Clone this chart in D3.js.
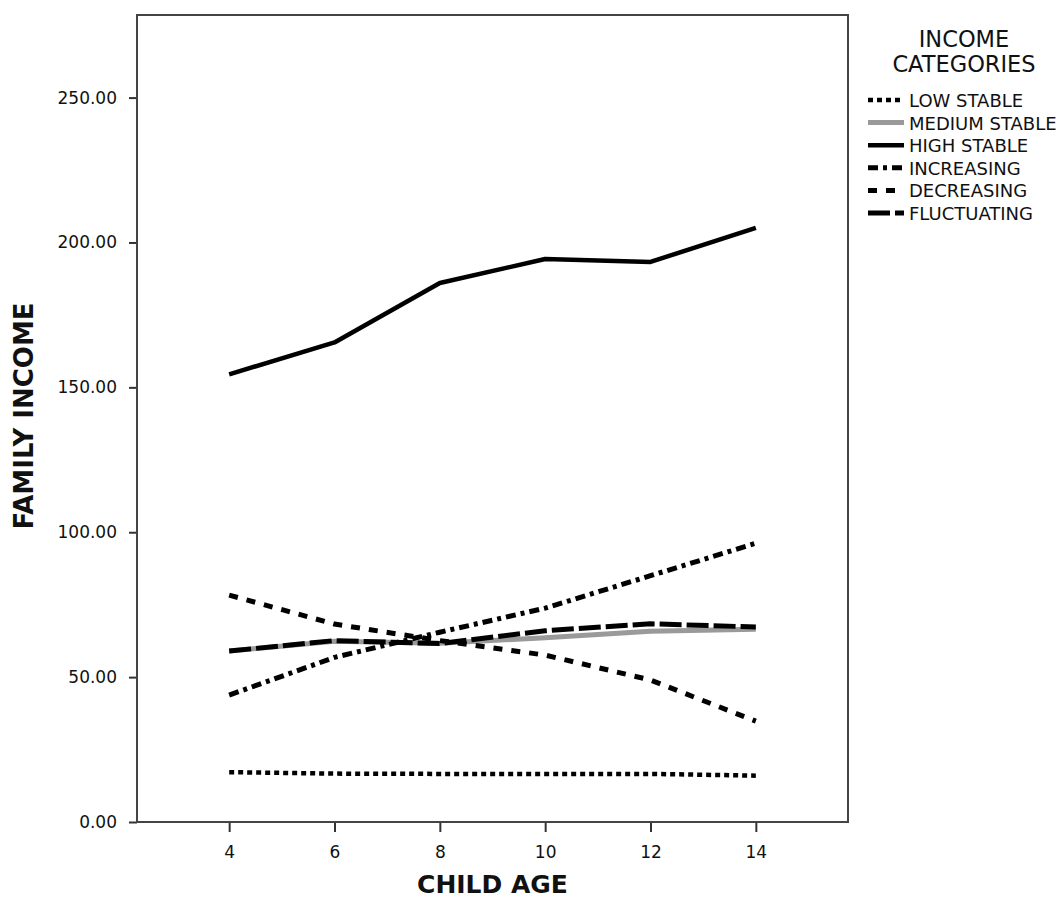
<!DOCTYPE html>
<html lang="en">

<head>
  <meta charset="utf-8">
  <title>Family income by child age</title>
  <script src="https://d3js.org/d3.v7.min.js"></script>
  <style>
    body {
      margin: 0;
      background: #fff;
    }

    text {
      font-family: "DejaVu Sans", sans-serif;
      fill: #111;
    }
  </style>
</head>

<body>

  <div id="chart"></div>

  <script>
    // width and height
    var w = 1063;
    var h = 901;

    // data
    var ages = [4, 6, 8, 10, 12, 14];
    var categories = ["LOW STABLE", "MEDIUM STABLE", "HIGH STABLE", "INCREASING", "DECREASING", "FLUCTUATING"];
    var lowStable = [17.2, 16.7, 16.6, 16.6, 16.6, 16.0];
    var mediumStable = [59.0, 62.4, 61.7, 63.6, 65.8, 66.5];
    var highStable = [154.5, 165.5, 186.0, 194.3, 193.3, 205.0];
    var increasing = [43.8, 56.8, 65.5, 73.8, 85.0, 96.2];
    var decreasing = [78.3, 68.3, 62.6, 57.6, 49.0, 34.8];
    var fluctuating = [59.0, 62.6, 61.6, 66.0, 68.4, 67.3];
    var yTicks = [0, 50, 100, 150, 200, 250];

    var seriesValues = [lowStable, mediumStable, highStable, increasing, decreasing, fluctuating];

    // line looks per category
    var looks = [
      { color: "#000", width: 4.5, dash: "5,4" },
      { color: "#9a9a9a", width: 5, dash: null },
      { color: "#000", width: 4.5, dash: null },
      { color: "#000", width: 5, dash: "10,5,4,5" },
      { color: "#000", width: 5, dash: "9,9" },
      { color: "#000", width: 5, dash: "22,5" }
    ];

    var frame = { left: 137, top: 15, right: 848, bottom: 822 };

    var x = d3.scaleLinear().domain([2.25, 15.75]).range([frame.left, frame.right]);
    var y = d3.scaleLinear().domain([0, 278.5]).range([frame.bottom, frame.top]);

    var svg = d3
      .select("#chart")
      .append("svg")
      .attr("width", w)
      .attr("height", h);

    // axes
    var yAxis = d3.axisLeft(y)
      .tickValues(yTicks)
      .tickSize(8)
      .tickPadding(12)
      .tickFormat(d3.format(".2f"));

    var xAxis = d3.axisBottom(x)
      .tickValues(ages)
      .tickSize(10)
      .tickPadding(14);

    var gy = svg.append("g")
      .attr("transform", "translate(" + frame.left + ",0)")
      .call(yAxis);

    var gx = svg.append("g")
      .attr("transform", "translate(0," + frame.bottom + ")")
      .call(xAxis);

    [gx, gy].forEach(function (g) {
      g.select(".domain").remove();
      g.selectAll(".tick line").attr("stroke", "#333").attr("stroke-width", 2);
      g.selectAll(".tick text")
        .style("font-family", "'DejaVu Sans', sans-serif")
        .style("font-size", "17px")
        .attr("fill", "#1a1a3a");
    });

    // the box round the plot
    svg.append("rect")
      .attr("x", frame.left)
      .attr("y", frame.top)
      .attr("width", frame.right - frame.left)
      .attr("height", frame.bottom - frame.top)
      .attr("fill", "none")
      .attr("stroke", "#444")
      .attr("stroke-width", 2);

    // lines
    var line = d3.line()
      .x(function (d, i) { return x(ages[i]); })
      .y(function (d) { return y(d); });

    svg.append("g")
      .selectAll("path")
      .data(seriesValues)
      .enter()
      .append("path")
      .attr("d", line)
      .attr("fill", "none")
      .attr("stroke", function (d, i) { return looks[i].color; })
      .attr("stroke-width", function (d, i) { return looks[i].width; })
      .attr("stroke-dasharray", function (d, i) { return looks[i].dash; })
      .attr("stroke-linejoin", "round");

    // axis titles
    svg.append("text")
      .attr("x", (frame.left + frame.right) / 2)
      .attr("y", 893)
      .attr("text-anchor", "middle")
      .style("font-size", "25px")
      .style("font-weight", "bold")
      .text("CHILD AGE");

    svg.append("text")
      .attr("transform", "translate(33," + 416 + ") rotate(-90)")
      .attr("text-anchor", "middle")
      .style("font-size", "26px")
      .style("font-weight", "bold")
      .text("FAMILY INCOME");

    // legend
    var legend = svg.append("g");

    legend.append("text")
      .attr("x", 964)
      .attr("y", 47)
      .attr("text-anchor", "middle")
      .style("font-size", "22.5px")
      .text("INCOME");

    legend.append("text")
      .attr("x", 964)
      .attr("y", 72)
      .attr("text-anchor", "middle")
      .style("font-size", "22.5px")
      .text("CATEGORIES");

    var rows = legend.selectAll("g.row")
      .data(categories)
      .enter()
      .append("g")
      .attr("class", "row")
      .attr("transform", function (d, i) { return "translate(0," + (100 + i * 22.6) + ")"; });

    rows.append("line")
      .attr("x1", 868)
      .attr("x2", 904)
      .attr("y1", 0)
      .attr("y2", 0)
      .attr("stroke", function (d, i) { return looks[i].color; })
      .attr("stroke-width", function (d, i) { return looks[i].width; })
      .attr("stroke-dasharray", function (d, i) { return looks[i].dash; });

    rows.append("text")
      .attr("x", 909)
      .attr("y", 7)
      .style("font-size", "18px")
      .attr("fill", "#1a1a3a")
      .text(function (d) { return d; });
  </script>

</body>

</html>
